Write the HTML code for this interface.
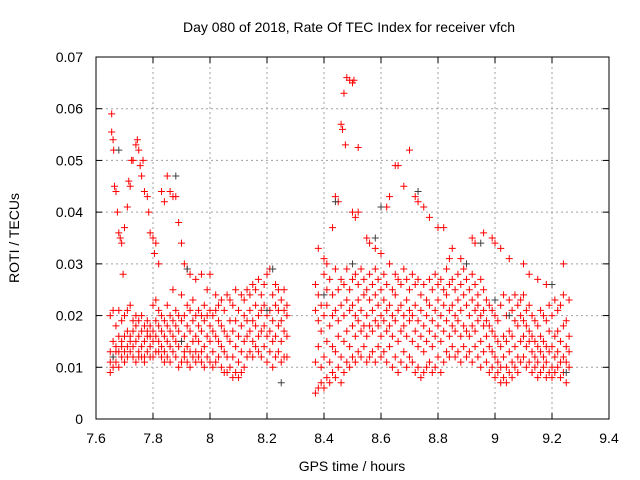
<!DOCTYPE html>
<html><head><meta charset="utf-8"><style>
body{margin:0;background:#fff;}
svg{display:block;font-family:"Liberation Sans",sans-serif;}
</style></head><body>
<svg id="chart" width="640" height="480" viewBox="0 0 640 480">
<rect width="640" height="480" fill="#fff"/>
<text x="349" y="32" font-size="14" text-anchor="middle" fill="#000">Day 080 of 2018, Rate Of TEC Index for receiver vfch</text>
<text x="352" y="471" font-size="14" text-anchor="middle" fill="#000">GPS time / hours</text>
<text transform="translate(19,238) rotate(-90)" font-size="14" text-anchor="middle" fill="#000">ROTI / TECUs</text>
<g id="grid"></g>
<g id="axes"></g>
<g id="red"></g>
<g id="gray"></g>
<rect x="96" y="57" width="513" height="362" fill="none" stroke="#000" stroke-width="1"/>
</svg>
<script>
const xTicks=[7.6,7.8,8,8.2,8.4,8.6,8.8,9,9.2,9.4];
const xTickLabels=["7.6","7.8","8","8.2","8.4","8.6","8.8","9","9.2","9.4"];
const yTicks=[0,0.01,0.02,0.03,0.04,0.05,0.06,0.07];
const yTickLabels=["0","0.01","0.02","0.03","0.04","0.05","0.06","0.07"];
const upperPoints=[[7.655,0.059],[7.655,0.0555],[7.66,0.054],[7.662,0.052],[7.665,0.045],[7.67,0.044],[7.675,0.040],[7.68,0.036],[7.685,0.035],[7.69,0.034],[7.695,0.028],[7.70,0.037],[7.71,0.041],[7.715,0.046],[7.72,0.045],[7.725,0.050],[7.73,0.050],[7.74,0.053],[7.745,0.054],[7.75,0.052],[7.755,0.049],[7.76,0.047],[7.765,0.050],[7.77,0.044],[7.78,0.043],[7.785,0.040],[7.79,0.036],[7.80,0.035],[7.805,0.032],[7.81,0.034],[7.82,0.030],[7.83,0.044],[7.84,0.042],[7.85,0.047],[7.86,0.044],[7.87,0.043],[7.88,0.043],[7.89,0.038],[7.90,0.034],[7.91,0.030],[7.92,0.029],[7.93,0.028],[7.95,0.027],[7.97,0.028],[8.0,0.028],
[8.48,0.066],[8.49,0.0655],[8.50,0.065],[8.505,0.0655],[8.47,0.063],[8.46,0.057],[8.465,0.056],[8.475,0.053],[8.52,0.0525],[8.45,0.042],[8.44,0.043],[8.43,0.037],[8.5,0.040],[8.51,0.039],[8.52,0.040],[8.55,0.035],[8.56,0.034],[8.62,0.041],[8.63,0.043],[8.65,0.049],[8.66,0.049],[8.68,0.045],[8.70,0.052],[8.72,0.043],[8.73,0.042],[8.75,0.041],[8.77,0.039],[8.80,0.037],[8.82,0.037],[8.85,0.033],[8.88,0.031],[8.92,0.035],[8.93,0.034],[8.96,0.036],[8.99,0.035],[9.0,0.034],[9.02,0.033],[9.1,0.030],[9.15,0.027],[9.18,0.026],[9.24,0.030],[8.38,0.033],[8.40,0.031],[8.41,0.030],[8.58,0.033],[8.60,0.032],[8.84,0.031],[9.05,0.031],[9.12,0.028]];
const bandColumns=[
[7.65,[0.009,0.013,0.020,0.011]],[7.66,[0.012,0.015,0.021,0.010]],[7.67,[0.011,0.014,0.018,0.013]],[7.68,[0.013,0.016,0.021,0.010]],[7.69,[0.012,0.015,0.019,0.014]],[7.70,[0.011,0.013,0.020,0.016]],
[7.71,[0.014,0.017,0.021,0.012]],[7.72,[0.013,0.016,0.022,0.015]],[7.73,[0.012,0.014,0.019,0.017]],[7.74,[0.011,0.015,0.018,0.020]],[7.75,[0.013,0.016,0.019,0.012]],[7.76,[0.014,0.017,0.020,0.012]],
[7.77,[0.012,0.015,0.018,0.011]],[7.78,[0.013,0.016,0.019,0.017]],[7.79,[0.014,0.018,0.012,0.016]],[7.80,[0.012,0.015,0.017,0.022]],[7.81,[0.013,0.016,0.019,0.023]],[7.82,[0.015,0.018,0.021,0.013]],
[7.83,[0.012,0.014,0.017,0.020]],[7.84,[0.013,0.016,0.019,0.011]],[7.85,[0.015,0.018,0.012,0.022]],[7.86,[0.011,0.014,0.017,0.020]],[7.87,[0.013,0.016,0.019,0.025]],[7.88,[0.012,0.015,0.018,0.021]],
[7.89,[0.010,0.014,0.017,0.020]],[7.90,[0.011,0.015,0.019,0.024]],[7.91,[0.012,0.016,0.020,0.013]],[7.92,[0.011,0.014,0.018,0.022]],[7.93,[0.013,0.017,0.021,0.010]],[7.94,[0.012,0.015,0.019,0.023]],
[7.95,[0.011,0.016,0.020,0.013]],[7.96,[0.012,0.015,0.018,0.021]],[7.97,[0.013,0.017,0.020,0.011]],[7.98,[0.010,0.014,0.019,0.022]],[7.99,[0.012,0.016,0.020,0.025]],[8.00,[0.011,0.015,0.018,0.021]],
[8.01,[0.010,0.013,0.017,0.020]],[8.02,[0.011,0.016,0.021,0.024]],[8.03,[0.012,0.015,0.019,0.022]],[8.04,[0.010,0.014,0.018,0.023]],[8.05,[0.009,0.013,0.017,0.021]],[8.06,[0.009,0.012,0.016,0.024]],
[8.07,[0.010,0.015,0.019,0.023]],[8.08,[0.008,0.012,0.017,0.022]],[8.09,[0.009,0.014,0.019,0.025]],[8.10,[0.008,0.011,0.016,0.021]],[8.11,[0.009,0.013,0.018,0.024]],[8.12,[0.010,0.015,0.020,0.023]],
[8.13,[0.012,0.016,0.019,0.025]],[8.14,[0.013,0.017,0.021,0.024]],[8.15,[0.012,0.015,0.019,0.026]],[8.16,[0.014,0.018,0.022,0.025]],[8.17,[0.013,0.016,0.020,0.027]],[8.18,[0.012,0.017,0.021,0.024]],
[8.19,[0.014,0.018,0.022,0.026]],[8.20,[0.011,0.016,0.020,0.028]],[8.21,[0.013,0.017,0.021,0.029]],[8.22,[0.010,0.015,0.019,0.024]],[8.23,[0.012,0.016,0.022,0.026]],[8.24,[0.013,0.018,0.021,0.025]],
[8.25,[0.011,0.015,0.019,0.023]],[8.26,[0.012,0.017,0.021,0.025]],[8.27,[0.012,0.016,0.020,0.022]],
[8.37,[0.005,0.011,0.021,0.026]],[8.38,[0.006,0.014,0.019,0.024]],[8.39,[0.007,0.010,0.017,0.022]],[8.40,[0.006,0.012,0.020,0.028]],[8.41,[0.008,0.015,0.022,0.025]],[8.42,[0.007,0.011,0.018,0.027]],
[8.43,[0.009,0.014,0.020,0.024]],[8.44,[0.008,0.013,0.021,0.029]],[8.45,[0.010,0.016,0.019,0.025]],[8.46,[0.007,0.012,0.022,0.027]],[8.47,[0.009,0.015,0.020,0.026]],[8.48,[0.011,0.017,0.023,0.029]],
[8.49,[0.010,0.014,0.021,0.025]],[8.50,[0.012,0.018,0.022,0.027]],[8.51,[0.011,0.016,0.020,0.028]],[8.52,[0.013,0.019,0.023,0.026]],[8.53,[0.012,0.017,0.021,0.029]],[8.54,[0.014,0.018,0.024,0.027]],
[8.55,[0.011,0.016,0.020,0.025]],[8.56,[0.012,0.018,0.023,0.028]],[8.57,[0.013,0.017,0.021,0.026]],[8.58,[0.011,0.019,0.024,0.029]],[8.59,[0.014,0.018,0.022,0.027]],[8.60,[0.012,0.016,0.020,0.025]],
[8.61,[0.013,0.019,0.023,0.028]],[8.62,[0.011,0.017,0.021,0.026]],[8.63,[0.014,0.018,0.022,0.030]],[8.64,[0.010,0.016,0.020,0.025]],[8.65,[0.012,0.019,0.024,0.028]],[8.66,[0.009,0.015,0.021,0.027]],
[8.67,[0.011,0.017,0.022,0.026]],[8.68,[0.013,0.018,0.020,0.029]],[8.69,[0.010,0.016,0.023,0.027]],[8.70,[0.012,0.019,0.021,0.025]],[8.71,[0.011,0.015,0.020,0.028]],[8.72,[0.009,0.017,0.022,0.026]],
[8.73,[0.010,0.014,0.019,0.027]],[8.74,[0.008,0.016,0.021,0.024]],[8.75,[0.009,0.013,0.018,0.026]],[8.76,[0.010,0.015,0.020,0.023]],[8.77,[0.011,0.017,0.022,0.027]],[8.78,[0.009,0.014,0.019,0.025]],
[8.79,[0.010,0.016,0.021,0.028]],[8.80,[0.012,0.018,0.023,0.026]],[8.81,[0.009,0.015,0.020,0.027]],[8.82,[0.011,0.017,0.022,0.025]],[8.83,[0.013,0.019,0.024,0.029]],[8.84,[0.012,0.016,0.021,0.026]],
[8.85,[0.014,0.018,0.022,0.027]],[8.86,[0.012,0.017,0.020,0.025]],[8.87,[0.013,0.019,0.023,0.028]],[8.88,[0.011,0.016,0.021,0.026]],[8.89,[0.014,0.018,0.024,0.029]],[8.90,[0.012,0.017,0.022,0.027]],
[8.91,[0.013,0.016,0.020,0.025]],[8.92,[0.011,0.018,0.023,0.028]],[8.93,[0.014,0.017,0.021,0.026]],[8.94,[0.012,0.019,0.022,0.024]],[8.95,[0.010,0.015,0.020,0.027]],[8.96,[0.013,0.018,0.021,0.025]],
[8.97,[0.011,0.016,0.019,0.023]],[8.98,[0.009,0.014,0.018,0.022]],[8.99,[0.010,0.013,0.017,0.021]],[9.00,[0.008,0.012,0.016,0.020]],[9.01,[0.009,0.011,0.015,0.019]],[9.02,[0.007,0.010,0.014,0.022]],
[9.03,[0.008,0.012,0.016,0.024]],[9.04,[0.007,0.010,0.015,0.020]],[9.05,[0.009,0.013,0.017,0.023]],[9.06,[0.008,0.011,0.016,0.021]],[9.07,[0.010,0.014,0.019,0.024]],[9.08,[0.009,0.012,0.018,0.022]],
[9.09,[0.011,0.015,0.020,0.023]],[9.10,[0.012,0.016,0.019,0.024]],[9.11,[0.010,0.014,0.018,0.021]],[9.12,[0.011,0.015,0.017,0.022]],[9.13,[0.009,0.013,0.016,0.020]],[9.14,[0.010,0.012,0.015,0.019]],
[9.15,[0.008,0.011,0.014,0.018]],[9.16,[0.009,0.013,0.016,0.021]],[9.17,[0.010,0.012,0.015,0.020]],[9.18,[0.008,0.011,0.014,0.019]],[9.19,[0.009,0.013,0.017,0.022]],[9.20,[0.008,0.010,0.014,0.020]],
[9.21,[0.009,0.012,0.016,0.023]],[9.22,[0.010,0.013,0.017,0.021]],[9.23,[0.008,0.011,0.015,0.022]],[9.24,[0.009,0.012,0.018,0.024]],[9.25,[0.007,0.011,0.014,0.019]],[9.26,[0.010,0.013,0.016,0.023]]];
const grayPoints=[[7.68,0.052],[7.66,0.012],[7.88,0.047],[7.92,0.029],[8.22,0.029],[8.25,0.007],[8.40,0.024],[8.44,0.042],[8.60,0.041],[8.58,0.035],[8.73,0.044],[8.90,0.030],[8.95,0.034],[9.00,0.023],[9.05,0.020],[9.20,0.026],[9.25,0.009],[8.20,0.021],[7.90,0.015],[8.50,0.030]];

const NS="http://www.w3.org/2000/svg";
const X0=96,X1=609,Y0=419,Y1=57;
function sx(v){return X0+(v-7.6)/1.8*(X1-X0);}
function sy(v){return Y0-(v/0.07)*(Y0-Y1);}
function mk(tag,attrs,parent){const e=document.createElementNS(NS,tag);for(const k in attrs)e.setAttribute(k,attrs[k]);parent.appendChild(e);return e;}
const grid=document.getElementById('grid'),axes=document.getElementById('axes');
xTicks.forEach((t,i)=>{
  const x=sx(t);
  if(i>0&&i<xTicks.length-1){const g=mk('line',{x1:x,x2:x,y1:Y0,y2:Y1,stroke:'#a0a0a0','stroke-dasharray':'2,3'},grid);
  
  }
  mk('line',{x1:x,x2:x,y1:Y0,y2:Y0-6,stroke:'#000'},axes);
  mk('line',{x1:x,x2:x,y1:Y1,y2:Y1+6,stroke:'#000'},axes);
  const l=mk('text',{x:x,y:443,'font-size':14,'text-anchor':'middle',fill:'#000'},axes);l.textContent=xTickLabels[i];
  
  
});
yTicks.forEach((t,i)=>{
  const y=sy(t);
  if(i>0&&i<yTicks.length-1){const g=mk('line',{x1:X0,x2:X1,y1:y,y2:y,stroke:'#a0a0a0','stroke-dasharray':'2,3'},grid);
  
  }
  mk('line',{x1:X0,x2:X0+6,y1:y,y2:y,stroke:'#000'},axes);
  mk('line',{x1:X1,x2:X1-6,y1:y,y2:y,stroke:'#000'},axes);
  const l=mk('text',{x:83,y:y+5,'font-size':14,'text-anchor':'end',fill:'#000'},axes);l.textContent=yTickLabels[i];
  
  
});
function plus(g,x,y,c){const p=mk('path',{d:`M${sx(x)-3.5},${sy(y)}h7M${sx(x)},${sy(y)-3.5}v7`,stroke:c,'stroke-width':1,fill:'none'},g);
  
  }
const red=document.getElementById('red'),gray=document.getElementById('gray');
bandColumns.forEach(c=>c[1].forEach(v=>plus(red,c[0],v,'#ff0000')));
upperPoints.forEach(p=>plus(red,p[0],p[1],'#ff0000'));
grayPoints.forEach(p=>plus(gray,p[0],p[1],'#404040'));
</script>
</body></html>
